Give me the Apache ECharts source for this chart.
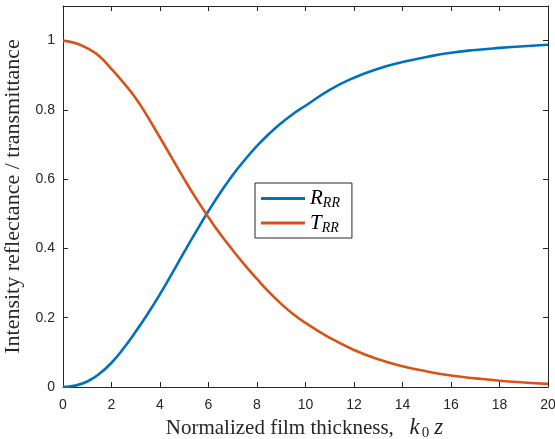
<!DOCTYPE html>
<html>
<head>
<meta charset="utf-8">
<script src="https://cdn.jsdelivr.net/npm/echarts@6/dist/echarts.min.js"></script>
<style>
  html, body { margin: 0; padding: 0; background: #fff; }
  #chart { width: 555px; height: 439px; }
</style>
</head>
<body>
<div id="chart"></div>
<script>
// normalized thickness k0z
const thickness = [0, 0.5, 1, 1.5, 2, 2.5, 3, 3.5, 4, 4.5, 5, 5.5, 6, 6.5, 7, 7.5, 8, 8.5, 9, 9.5, 10, 11, 12, 13, 14, 15, 16, 17, 18, 19, 20];
const reflectRR = [0, 0.004, 0.016, 0.038, 0.07, 0.112, 0.16, 0.212, 0.268, 0.328, 0.39, 0.45, 0.508, 0.562, 0.612, 0.656, 0.696, 0.731, 0.762, 0.789, 0.812, 0.858, 0.893, 0.919, 0.938, 0.953, 0.965, 0.973, 0.979, 0.984, 0.988];
const transRR = [1.0, 0.993, 0.978, 0.955, 0.918, 0.878, 0.834, 0.779, 0.72, 0.66, 0.6, 0.543, 0.49, 0.44, 0.395, 0.352, 0.312, 0.274, 0.24, 0.21, 0.185, 0.142, 0.107, 0.08, 0.06, 0.045, 0.033, 0.025, 0.018, 0.013, 0.009];
const xTicks = [0, 2, 4, 6, 8, 10, 12, 14, 16, 18, 20];
const yTicks = [0, 0.2, 0.4, 0.6, 0.8, 1];

const axisColor = '#262626';
const serif = '"Liberation Serif", "DejaVu Serif", serif';
const sans = '"Liberation Sans", Arial, sans-serif';

function pairs(xs, ys) {
  return xs.map((x, i) => [x, ys[i]]);
}

let chart = echarts.init(document.getElementById('chart'));

let xBase = {
  type: 'value', min: 0, max: 20, interval: 2,
  axisLine: { show: true, onZero: false, lineStyle: { color: axisColor, width: 1 } },
  axisTick: { inside: true, length: 5, lineStyle: { color: axisColor } },
  splitLine: { show: false }
};
let yBase = {
  type: 'value', min: 0, max: 1.1, interval: 0.2,
  axisLine: { show: true, onZero: false, lineStyle: { color: axisColor, width: 1 } },
  axisTick: { inside: true, length: 5, lineStyle: { color: axisColor } },
  splitLine: { show: false }
};

let option = {
  animation: false,
  grid: { left: 63, right: 7, top: 6, bottom: 52, containLabel: false, outerBoundsMode: 'none' },
  xAxis: [
    Object.assign({}, xBase, {
      position: 'bottom',
      axisLabel: { color: axisColor, fontFamily: sans, fontSize: 14, margin: 11,
        formatter: v => xTicks.includes(v) ? String(v) : '' },
      name: '{t|Normalized film thickness,   }{i|k}{s|0}{i|z}',
      nameLocation: 'middle',
      nameGap: 29,
      nameTextStyle: {
        rich: {
          t: { fontFamily: serif, fontSize: 21, color: axisColor },
          i: { fontFamily: serif, fontStyle: 'italic', fontSize: 23, color: axisColor, padding: [0, 2, 0, 0] },
          s: { fontFamily: serif, fontSize: 15, color: axisColor, verticalAlign: 'bottom', padding: [9, 5, 0, 0] }
        }
      }
    }),
    Object.assign({}, xBase, { position: 'top', axisLabel: { show: false } })
  ],
  yAxis: [
    Object.assign({}, yBase, {
      position: 'left',
      axisLabel: { color: axisColor, fontFamily: sans, fontSize: 14, margin: 8,
        showMaxLabel: false,
        formatter: v => {
          let r = Math.round(v * 10) / 10;
          return yTicks.includes(r) ? String(r) : '';
        } },
      name: 'Intensity reflectance / transmittance',
      nameLocation: 'middle',
      nameGap: 35,
      nameTextStyle: { fontFamily: serif, fontSize: 22, color: axisColor }
    }),
    Object.assign({}, yBase, { position: 'right', axisLabel: { show: false } })
  ],
  legend: {
    orient: 'vertical',
    left: 255, top: 183,
    padding: [5, 12, 3, 6],
    itemGap: 2,
    itemWidth: 44,
    itemHeight: 3,
    icon: 'rect',
    borderColor: axisColor,
    borderWidth: 1,
    backgroundColor: '#fff',
    data: ['R', 'T'],
    formatter: name => '{m|' + name + '}{s|RR}',
    textStyle: {
      rich: {
        m: { fontFamily: serif, fontStyle: 'italic', fontSize: 21, color: '#000' },
        s: { fontFamily: serif, fontStyle: 'italic', fontSize: 14, color: '#000', verticalAlign: 'bottom', padding: [10, 0, 0, 0] }
      }
    }
  },
  series: [
    {
      name: 'R', type: 'line', xAxisIndex: 0, yAxisIndex: 0,
      data: pairs(thickness, reflectRR),
      smooth: 0.5, showSymbol: false,
      lineStyle: { color: '#0072BD', width: 2.6 },
      itemStyle: { color: '#0072BD' }
    },
    {
      name: 'T', type: 'line', xAxisIndex: 0, yAxisIndex: 0,
      data: pairs(thickness, transRR),
      smooth: 0.5, showSymbol: false,
      lineStyle: { color: '#D95319', width: 2.6 },
      itemStyle: { color: '#D95319' }
    }
  ]
};

chart.setOption(option);
</script>
</body>
</html>
